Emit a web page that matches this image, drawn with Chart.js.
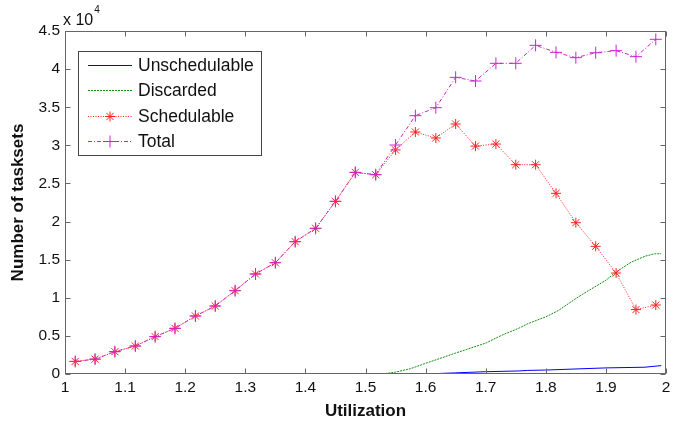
<!DOCTYPE html>
<html>
<head>
<meta charset="utf-8">
<script src="https://cdn.jsdelivr.net/npm/chart.js@4.4.0/dist/chart.umd.min.js"></script>
<style>
  html, body { margin: 0; padding: 0; background: #fff; }
</style>
</head>
<body>
<canvas id="taskChart" width="673" height="426"></canvas>
<script>
// marked series (Schedulable / Total) are sampled at these utilizations
const utilization = [1.017, 1.05, 1.083, 1.117, 1.15, 1.183, 1.217, 1.25, 1.283, 1.317,
                     1.35, 1.383, 1.417, 1.45, 1.483, 1.517, 1.55, 1.583, 1.617, 1.65,
                     1.683, 1.717, 1.75, 1.783, 1.817, 1.85, 1.883, 1.917, 1.95, 1.983];
const schedulable = [1650, 1950, 2930, 3670, 4900, 5990, 7610, 8920, 10930, 13120,
                     14600, 17360, 19110, 22650, 26450, 26150, 29400, 31750, 30960, 32800,
                     29900, 30170, 27460, 27460, 23700, 19850, 16750, 13250, 8450, 9050];
const total = [1650, 1950, 2930, 3670, 4900, 5990, 7610, 8920, 10930, 13120,
               14600, 17360, 19110, 22650, 26450, 26150, 30040, 33890, 34940, 38920,
               38440, 40760, 40760, 43120, 42200, 41500, 42150, 42420, 41630, 43910];

const discardedUtil = [1.528, 1.55, 1.575, 1.6, 1.65, 1.7, 1.727, 1.755, 1.77, 1.8,
                       1.821, 1.85, 1.865, 1.9, 1.915, 1.942, 1.965, 1.981, 1.992];
const discarded = [0, 250, 700, 1400, 2750, 4050, 5100, 6000, 6600, 7500,
                   8330, 9900, 10650, 12300, 13280, 14670, 15450, 15770, 15780];
const unschedUtil = [1.6, 1.65, 1.7, 1.755, 1.77, 1.8, 1.9, 1.965, 1.992];
const unschedulable = [0, 150, 300, 400, 470, 520, 800, 890, 1100];

const xTicks = [1, 2, 0.1];       // min, max, step
const yTicks = [0, 45000, 5000];

const FONT = '"Liberation Sans", Arial, Helvetica, sans-serif';
const axisColor = '#666';

function pairs(xs, ys) {
    return xs.map((v, i) => ({ x: v, y: ys[i] }));
}

const series = [
    { label: 'Unschedulable', color: '#0000ff', dash: [], marker: false },
    { label: 'Discarded', color: '#109010', dash: [2, 1], marker: false },
    { label: 'Schedulable', color: '#ff2020', dash: [1, 1.5], marker: 'star' },
    { label: 'Total', color: '#d020d0', dash: [4, 2, 1, 2], marker: 'cross' }
];

function drawMarker(ctx, style, cx, cy, r) {
    ctx.beginPath();
    ctx.moveTo(cx - r, cy); ctx.lineTo(cx + r, cy);
    ctx.moveTo(cx, cy - r); ctx.lineTo(cx, cy + r);
    if (style === 'star') {
        const d = r * 0.707;
        ctx.moveTo(cx - d, cy - d); ctx.lineTo(cx + d, cy + d);
        ctx.moveTo(cx - d, cy + d); ctx.lineTo(cx + d, cy - d);
    }
    ctx.stroke();
}

// matlab-like box with inward ticks, exponent label and legend
const frameAndLegend = {
    id: 'frameAndLegend',
    afterDatasetsDraw(chart) {
        const { ctx, chartArea: a, scales: { x, y } } = chart;
        const L = Math.round(a.left) + 0.5, R = Math.round(a.right) - 0.5;
        const T = Math.round(a.top) + 0.5, B = Math.round(a.bottom) - 0.5;
        ctx.save();
        ctx.strokeStyle = axisColor;
        ctx.lineWidth = 1;
        ctx.setLineDash([]);
        ctx.strokeRect(L, T, R - L, B - T);

        ctx.beginPath();
        x.ticks.forEach(t => {
            const px = Math.round(x.getPixelForValue(t.value)) + 0.5;
            ctx.moveTo(px, B); ctx.lineTo(px, B - 5);
            ctx.moveTo(px, T); ctx.lineTo(px, T + 5);
        });
        y.ticks.forEach(t => {
            const py = Math.round(y.getPixelForValue(t.value)) + 0.5;
            ctx.moveTo(L, py); ctx.lineTo(L + 5, py);
            ctx.moveTo(R, py); ctx.lineTo(R - 5, py);
        });
        ctx.stroke();

        // x 10^4
        ctx.fillStyle = '#111';
        ctx.textBaseline = 'alphabetic';
        ctx.textAlign = 'left';
        ctx.font = '16px ' + FONT;
        ctx.fillText('x 10', a.left - 2, a.top - 6);
        const w = ctx.measureText('x 10').width;
        ctx.font = '10px ' + FONT;
        ctx.fillText('4', a.left - 1 + w, a.top - 18);

        // legend
        const bx = a.left + 13, by = a.top + 20, bw = 183, bh = 104;
        ctx.fillStyle = '#fff';
        ctx.fillRect(bx, by, bw, bh);
        ctx.strokeStyle = '#444';
        ctx.strokeRect(bx + 0.5, by + 0.5, bw, bh);
        ctx.font = '17.5px ' + FONT;
        ctx.textBaseline = 'middle';
        series.forEach((s, i) => {
            const ry = Math.round(by + 14 + i * 25.4) + 0.5;
            ctx.strokeStyle = s.color;
            ctx.setLineDash(s.dash);
            ctx.beginPath();
            ctx.moveTo(bx + 10, ry); ctx.lineTo(bx + 54, ry);
            ctx.stroke();
            ctx.setLineDash([]);
            if (s.marker) drawMarker(ctx, s.marker, bx + 32, ry, s.marker === 'star' ? 5 : 6);
            ctx.fillStyle = '#111';
            ctx.fillText(s.label, bx + 60, ry + 1);
        });
        ctx.restore();
    }
};

const dataSets = [
    [unschedUtil, unschedulable],
    [discardedUtil, discarded],
    [utilization, schedulable],
    [utilization, total]
].map(([xs, ys], i) => {
    const s = series[i];
    return {
        label: s.label,
        data: pairs(xs, ys),
        borderColor: s.color,
        backgroundColor: s.color,
        borderWidth: 1,
        borderDash: s.dash,
        pointStyle: s.marker || 'circle',
        pointRadius: s.marker ? (s.marker === 'star' ? 5 : 6) : 0,
        pointBorderWidth: 1,
        pointBorderColor: s.color,
        pointBackgroundColor: s.color,
        tension: 0,
        fill: false,
        order: 4 - i
    };
});

new Chart(document.getElementById('taskChart'), {
    type: 'line',
    data: { datasets: dataSets },
    options: {
        responsive: false,
        animation: false,
        devicePixelRatio: 1,
        layout: { padding: { top: 31, right: 5, left: 0, bottom: 0 } },
        plugins: { legend: { display: false }, tooltip: { enabled: false } },
        scales: {
            x: {
                type: 'linear',
                min: xTicks[0], max: xTicks[1],
                grid: { display: false, drawTicks: false },
                border: { display: false },
                ticks: {
                    stepSize: xTicks[2], padding: 4, color: '#111',
                    font: { family: FONT, size: 15.5 },
                    maxRotation: 0,
                    callback: v => String(Math.round(v * 10) / 10)
                },
                title: {
                    display: true, text: 'Utilization', color: '#111',
                    font: { family: FONT, size: 17, weight: 'bold' },
                    padding: { top: 0, bottom: 4 }
                },
                afterFit: s => {
                    s.height = 52;
                    s.paddingLeft = 0;
                    s.paddingRight = 0;
                }
            },
            y: {
                min: yTicks[0], max: yTicks[1],
                grid: { display: false, drawTicks: false },
                border: { display: false },
                ticks: {
                    stepSize: yTicks[2], padding: 5, color: '#111',
                    font: { family: FONT, size: 15.5 },
                    callback: v => String(v / 10000)
                },
                title: {
                    display: true, text: 'Number of tasksets', color: '#111',
                    font: { family: FONT, size: 17, weight: 'bold' },
                    padding: { top: 8, bottom: 0 }
                },
                afterFit: s => {
                    s.width = 65;
                    s.paddingTop = 0;
                    s.paddingBottom = 0;
                }
            }
        }
    },
    plugins: [frameAndLegend]
});
</script>
</body>
</html>
